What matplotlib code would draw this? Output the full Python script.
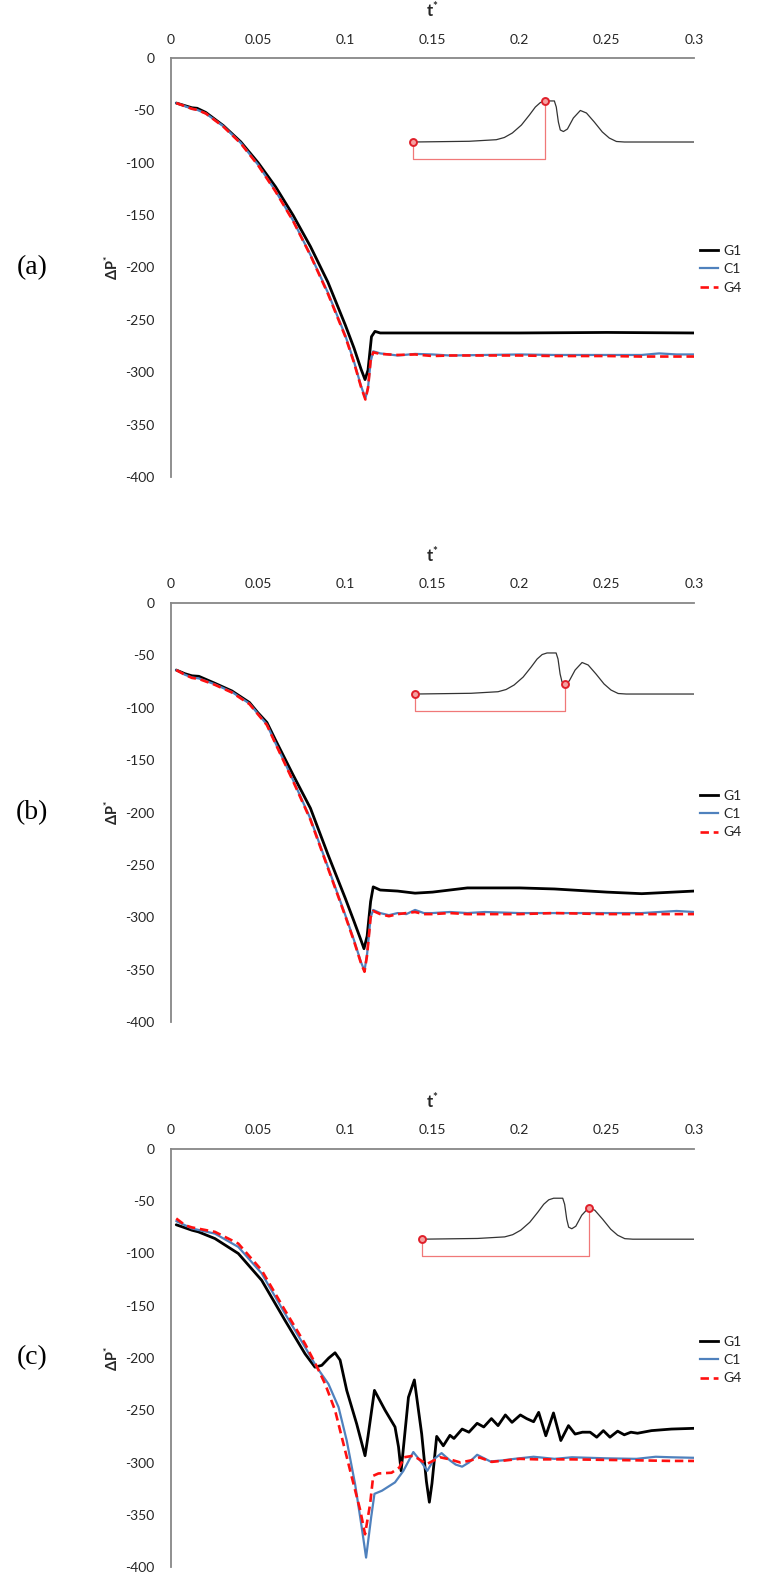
import numpy as np
import matplotlib
matplotlib.use("Agg")
import matplotlib.pyplot as plt
from matplotlib.lines import Line2D

plt.rcParams['font.family'] = ['Lato', 'DejaVu Sans']
plt.rcParams['axes.unicode_minus'] = False
plt.rcParams['mathtext.fontset'] = 'custom'
plt.rcParams['mathtext.bf'] = 'Lato:bold'
plt.rcParams['mathtext.rm'] = 'Lato'

# ---------------- data ----------------
series_names = ["G1", "C1", "G4"]
x_ticks = [0, 0.05, 0.1, 0.15, 0.2, 0.25, 0.3]
x_ticklabels = ["0", "0.05", "0.1", "0.15", "0.2", "0.25", "0.3"]
y_ticks = [0, -50, -100, -150, -200, -250, -300, -350, -400]
panel_labels = ["(a)", "(b)", "(c)"]

# panel (a)
ta_g1 = [0.003, 0.008, 0.012, 0.015, 0.02, 0.03, 0.04, 0.05, 0.06, 0.07, 0.08, 0.09, 0.1, 0.105,
         0.109, 0.1113, 0.113, 0.115, 0.117, 0.12, 0.15, 0.2, 0.25, 0.3]
pa_g1 = [-43, -45.5, -47.5, -48, -52, -64.5, -80, -100, -123, -150, -180, -214, -255, -277,
         -297, -307, -298, -266, -261, -262.5, -262.5, -262.5, -262, -262.5]
ta_c1 = [0.003, 0.008, 0.012, 0.015, 0.02, 0.03, 0.04, 0.05, 0.06, 0.07, 0.08, 0.09, 0.1, 0.105,
         0.109, 0.1115, 0.113, 0.1145, 0.116, 0.12, 0.13, 0.14, 0.15, 0.16, 0.18, 0.2, 0.22, 0.25,
         0.27, 0.28, 0.29, 0.3]
pa_c1 = [-43, -46, -48.5, -49.5, -53, -65, -81, -102, -127, -155, -188, -224, -265, -290,
         -313, -325, -315, -290, -280, -282, -284, -282.5, -283, -284, -283.5, -283, -283.5, -283.5,
         -283.5, -282, -283, -283]
ta_g4 = ta_c1
pa_g4 = [-43, -46, -48.5, -49.5, -53, -65.5, -81.5, -102.5, -127.5, -155.5, -188.5, -225, -266, -291,
         -314, -326, -315, -289, -281, -282.5, -283.5, -283, -284.5, -284, -284, -284, -284.5, -284.5,
         -285, -285, -285, -285]

# panel (b)
tb_g1 = [0.003, 0.008, 0.012, 0.016, 0.025, 0.035, 0.045, 0.05, 0.055, 0.06, 0.07, 0.08, 0.09, 0.1,
         0.105, 0.109, 0.1107, 0.1125, 0.1145, 0.116, 0.12, 0.13, 0.14, 0.15, 0.17, 0.2, 0.22, 0.25,
         0.27, 0.3]
pb_g1 = [-64, -67.5, -69.5, -70, -76.5, -84, -95, -105, -114, -131, -164, -196, -240, -282,
         -304, -322, -330, -318, -285, -271, -274, -275, -277, -276, -272, -272, -273, -276,
         -277.5, -275]
tb_c1 = [0.003, 0.008, 0.012, 0.016, 0.025, 0.035, 0.045, 0.05, 0.055, 0.06, 0.07, 0.08, 0.09, 0.1,
         0.105, 0.109, 0.111, 0.1125, 0.1145, 0.116, 0.12, 0.125, 0.13, 0.135, 0.14, 0.145, 0.15, 0.16,
         0.17, 0.18, 0.2, 0.22, 0.25, 0.27, 0.29, 0.3]
pb_c1 = [-64, -68.5, -71, -72, -77.5, -85, -96, -106, -116, -134, -169, -206, -252, -298,
         -322, -343, -351, -335, -300, -293, -296, -298, -296, -297, -293, -296, -296, -295,
         -296, -295, -296, -296, -296, -296, -294, -295]
tb_g4 = tb_c1
pb_g4 = [-64, -68.5, -71.5, -72.5, -78, -85.5, -96.5, -106.5, -116.5, -134.5, -170, -207, -253, -299,
         -323, -344, -352, -336, -300, -294, -297, -299, -297, -296, -295, -297, -297, -296,
         -297, -297, -297, -296, -297, -297, -297, -297]

# panel (c)
tc_g1 = [0.003, 0.012, 0.0157, 0.0252, 0.0386, 0.052, 0.0654, 0.0769, 0.0826, 0.0865, 0.0905,
         0.0941, 0.097, 0.1008, 0.1065, 0.1095, 0.1113, 0.113, 0.1167, 0.1228, 0.1285, 0.1305, 0.132,
         0.1362, 0.1396, 0.1438, 0.1465, 0.1482, 0.1497, 0.1524, 0.1562, 0.16, 0.1623, 0.167, 0.1709,
         0.1756, 0.1794, 0.1838, 0.1876, 0.1918, 0.1956, 0.2004, 0.204, 0.208, 0.2109, 0.215, 0.2194,
         0.2236, 0.228, 0.2318, 0.236, 0.2404, 0.2442, 0.248, 0.2518, 0.2562, 0.26, 0.2638, 0.2676,
         0.2756, 0.287, 0.3]
pc_g1 = [-72.5, -77.7, -79.3, -85.7, -100, -125.6, -164, -196, -208.8, -207, -200,
         -195, -202, -231, -263, -282, -293.5, -275, -231, -250, -266, -285, -308,
         -237.6, -221, -272.7, -318, -338, -320, -275, -284, -274, -277, -268, -271,
         -262.5, -266, -258, -264.7, -254.5, -261.6, -254.5, -258, -261, -252, -274.4, -252.6,
         -279, -264.7, -272.8, -271, -271, -275.8, -269.5, -275.8, -270, -273.5, -271, -272,
         -269.5, -268, -267.3]
tc_c1 = [0.003, 0.0119, 0.0252, 0.0386, 0.052, 0.0654, 0.0769, 0.0836, 0.0903, 0.0961, 0.1008,
         0.1056, 0.1094, 0.1119, 0.1148, 0.1167, 0.121, 0.1285, 0.1333, 0.139, 0.1438, 0.147, 0.1509,
         0.1552, 0.16, 0.1633, 0.167, 0.1709, 0.1756, 0.1832, 0.19, 0.197, 0.208, 0.22, 0.23, 0.25,
         0.267, 0.278, 0.287, 0.3]
pc_c1 = [-69, -76, -81, -93.7, -119, -157.6, -189.6, -208.8, -224.8, -247, -279,
         -320.7, -362, -391, -352.7, -330, -327, -319, -308, -290, -300, -308, -296.7,
         -291, -298, -302, -304, -300, -292.6, -299, -298, -296.5, -294.5, -296.5, -295, -296,
         -296.5, -294.5, -295, -295.5]
tc_g4 = [0.003, 0.0081, 0.0119, 0.0252, 0.0386, 0.052, 0.0654, 0.0769, 0.0836, 0.0884, 0.0941,
         0.0989, 0.1037, 0.1086, 0.1113, 0.1142, 0.116, 0.119, 0.1265, 0.131, 0.1337, 0.139, 0.1467,
         0.1543, 0.16, 0.166, 0.172, 0.177, 0.184, 0.192, 0.2, 0.21, 0.23, 0.25, 0.27, 0.287, 0.3]
pc_g4 = [-66.5, -73, -75, -79.3, -90.5, -116, -154.4, -186.4, -208, -224.8, -250,
         -282, -314, -346, -368.7, -340, -312.7, -310.5, -309.8, -304.8, -295, -293.5, -301.5,
         -295, -297, -300, -298, -295.2, -299.4, -298, -296.5, -297, -297, -297.5, -298, -298.5, -298.5]

# inset sketch: geometry profile (offset in t from its left end, height in dP units)
prof_dt = [0, 0.0321, 0.0476, 0.0522, 0.0568, 0.0620, 0.0666, 0.0700, 0.0729, 0.0757, 0.0809,
           0.0820, 0.0832, 0.0843, 0.0861, 0.0884, 0.0918, 0.0958, 0.0993, 0.1038, 0.1084, 0.1124,
           0.1165, 0.1211, 0.1624]
prof_h = [0, 0.7, 2.2, 4.3, 8.6, 16.2, 25.8, 33.4, 37.7, 39.2, 39.2, 33.4, 19.1, 11.5, 10.0, 12.4,
          22.9, 30.1, 27.7, 19.1, 9.6, 3.8, 0.5, 0, 0]
inset_start = [0.139, 0.140, 0.1438]        # t of left end of sketch per panel
inset_base = [-80.2, -86.9, -86.3]          # baseline level of sketch per panel
probe_index = [9, 14, 17]                   # profile point marked per panel
bracket_drop = 16

panels = [
    ((ta_g1, pa_g1), (ta_c1, pa_c1), (ta_g4, pa_g4)),
    ((tb_g1, pb_g1), (tb_c1, pb_c1), (tb_g4, pb_g4)),
    ((tc_g1, pc_g1), (tc_c1, pc_c1), (tc_g4, pc_g4)),
]

# ---------------- styling ----------------
W, H = 772, 1574
fig = plt.figure(figsize=(W / 100, H / 100), dpi=100)
left_px, right_px = 171, 694
tops = [58, 603, 1149]
bottoms = [477, 1022, 1567]
spine_col = '#878787'
txt_col = '#262626'
styles = [dict(color='black', lw=2.0, ls='-'),
          dict(color='#4F81BD', lw=1.6, ls='-'),
          dict(color='#FF1010', lw=1.9, ls=(0, (3.2, 1.8)))]

for i, (top, bot) in enumerate(zip(tops, bottoms)):
    ax = fig.add_axes([left_px / W, 1 - bot / H, (right_px - left_px) / W, (bot - top) / H])
    for (t, p), st, name in zip(panels[i], styles, series_names):
        ax.plot(t, p, label=name, solid_capstyle='round', **st)
    ax.set_xlim(0, 0.3)
    ax.set_ylim(-400, 0)
    ax.xaxis.tick_top()
    ax.set_xticks(x_ticks)
    ax.set_xticklabels(x_ticklabels)
    ax.set_yticks(y_ticks)
    ax.set_yticklabels([str(v) for v in y_ticks])
    ax.tick_params(axis='x', length=0, pad=9, labelsize=10, labelcolor=txt_col)
    ax.tick_params(axis='y', length=0, pad=12, labelsize=10, labelcolor=txt_col)
    for s in ['bottom', 'right']:
        ax.spines[s].set_visible(False)
    for s in ['top', 'left']:
        ax.spines[s].set_color(spine_col)
        ax.spines[s].set_linewidth(1.3)
    ax.patch.set_alpha(0)

    # inset sketch
    px = np.array(prof_dt) + inset_start[i]
    py = np.array(prof_h) + inset_base[i]
    ax.plot(px, py, color='#333333', lw=0.9, zorder=5)
    k = probe_index[i]
    bx = [px[0], px[0], px[k], px[k]]
    by = [py[0], inset_base[i] - bracket_drop, inset_base[i] - bracket_drop, py[k]]
    ax.plot(bx, by, color='#F07878', lw=0.9, zorder=4)
    ax.plot([px[0], px[k]], [py[0], py[k]], ls='none', marker='o', ms=5,
            mfc='#F4A0A0', mec='#E0202A', mew=1.4, zorder=6)

    mid = (top + bot) / 2
    fig.text(432 / W, 1 - (top - 48) / H, r'$\mathbf{t^{*}}$', ha='center', va='center',
             fontsize=12, color=txt_col)
    fig.text(112 / W, 1 - mid / H, r'$\mathbf{\Delta P^{*}}$', ha='center', va='center',
             rotation=90, fontsize=10.5, color=txt_col)
    fig.text(32 / W, 1 - mid / H, panel_labels[i], ha='center', va='center',
             fontsize=20, family='Liberation Serif', color='black')

    handles = [Line2D([], [], **st) for st in styles]
    ax.legend(handles, series_names, loc='upper left',
              bbox_to_anchor=(700 / W, 1 - (top + 187) / H), bbox_transform=fig.transFigure,
              frameon=False, fontsize=10, handlelength=1.3, handletextpad=0.35,
              labelspacing=0.45, borderpad=0, borderaxespad=0, labelcolor=txt_col)

fig.savefig('out.png', dpi=100)
